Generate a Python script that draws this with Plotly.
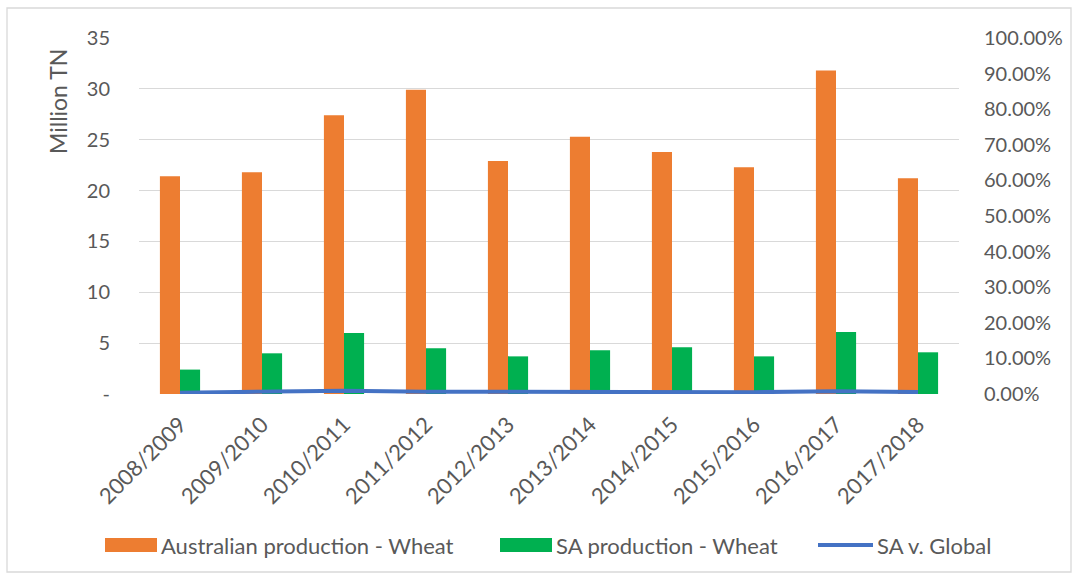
import plotly.graph_objects as go

# Wheat production by season
seasons = ["2008/2009", "2009/2010", "2010/2011", "2011/2012", "2012/2013",
           "2013/2014", "2014/2015", "2015/2016", "2016/2017", "2017/2018"]
australia_wheat = [21.4, 21.8, 27.4, 29.9, 22.9, 25.3, 23.8, 22.3, 31.8, 21.2]
sa_wheat = [2.4, 4.0, 6.0, 4.5, 3.7, 4.3, 4.6, 3.7, 6.1, 4.1]
sa_vs_global = [0.0035, 0.006, 0.009, 0.0065, 0.0056, 0.006, 0.0063, 0.005, 0.008, 0.0054]

left_tickvals = [0, 5, 10, 15, 20, 25, 30, 35]
left_ticktext = ["-", "5", "10", "15", "20", "25", "30", "35"]

series_names = ["Australian production - Wheat", "SA production - Wheat", "SA v. Global"]
colors = ["#ED7D31", "#00B050", "#4472C4"]
y_title = "Million TN"

FONT = "Lato"
TXT = "#595959"

fig = go.Figure()
fig.add_trace(go.Bar(x=seasons, y=australia_wheat, name=series_names[0],
                     marker=dict(color=colors[0], line=dict(width=0))))
fig.add_trace(go.Bar(x=seasons, y=sa_wheat, name=series_names[1],
                     marker=dict(color=colors[1], line=dict(width=0))))
fig.add_trace(go.Scatter(x=seasons, y=sa_vs_global, name=series_names[2], yaxis="y2",
                         mode="lines", line=dict(color=colors[2], width=4)))

W, H = 1077, 579
L, R, T, B = 139, 118, 38, 185

fig.update_layout(
    width=W, height=H,
    margin=dict(l=L, r=R, t=T, b=B),
    paper_bgcolor="white", plot_bgcolor="white",
    barmode="group", bargap=0.51, bargroupgap=0,
    showlegend=False,
    font=dict(family=FONT, color=TXT, size=20),
    xaxis=dict(tickangle=-45, tickfont=dict(size=22, color=TXT),
               showline=False, showgrid=False, ticks="outside", ticklen=8,
               tickcolor="rgba(0,0,0,0)"),
    yaxis=dict(range=[0, 35], tickvals=left_tickvals, ticktext=left_ticktext,
               showgrid=True, gridcolor="#D9D9D9", gridwidth=1.3,
               zeroline=False, showline=False, ticks="outside", ticklen=24,
               tickcolor="rgba(0,0,0,0)", tickfont=dict(size=20, color=TXT)),
    yaxis2=dict(range=[0, 1], dtick=0.1, tickformat=".2%", overlaying="y", side="right",
                showgrid=False, zeroline=False, showline=False, ticks="outside",
                ticklen=20, tickcolor="rgba(0,0,0,0)",
                tickfont=dict(size=20, color=TXT)),
)


def px_x(x):
    return (x - L) / (W - L - R)


def px_y(y):
    return (H - B - y) / (H - T - B)


# Outer chart border
fig.add_shape(type="rect", xref="paper", yref="paper",
              x0=px_x(7), x1=px_x(1071), y0=px_y(572), y1=px_y(8),
              line=dict(color="#D9D9D9", width=1.3), fillcolor="rgba(0,0,0,0)", layer="below")

# Vertical axis title near the top of the value axis
fig.add_annotation(xref="paper", yref="paper", x=px_x(58), y=px_y(102),
                   text=y_title, textangle=-90, showarrow=False,
                   xanchor="center", yanchor="middle",
                   font=dict(size=23, color=TXT, family=FONT))

# Legend row drawn below the axis labels
legend_swatches = [(105, 157), (500, 552), (818, 873)]
for i, (sx0, sx1) in enumerate(legend_swatches):
    if i < 2:
        fig.add_shape(type="rect", xref="paper", yref="paper",
                      x0=px_x(sx0), x1=px_x(sx1), y0=px_y(552), y1=px_y(538),
                      line=dict(width=0), fillcolor=colors[i])
    else:
        fig.add_shape(type="line", xref="paper", yref="paper",
                      x0=px_x(sx0), x1=px_x(sx1), y0=px_y(545), y1=px_y(545),
                      line=dict(color=colors[i], width=4))
    fig.add_annotation(xref="paper", yref="paper", x=px_x(sx1 + 2), y=px_y(545),
                       text=series_names[i], showarrow=False, xanchor="left", yanchor="middle",
                       font=dict(size=22, color=TXT, family=FONT))

fig.write_html("out.html")
